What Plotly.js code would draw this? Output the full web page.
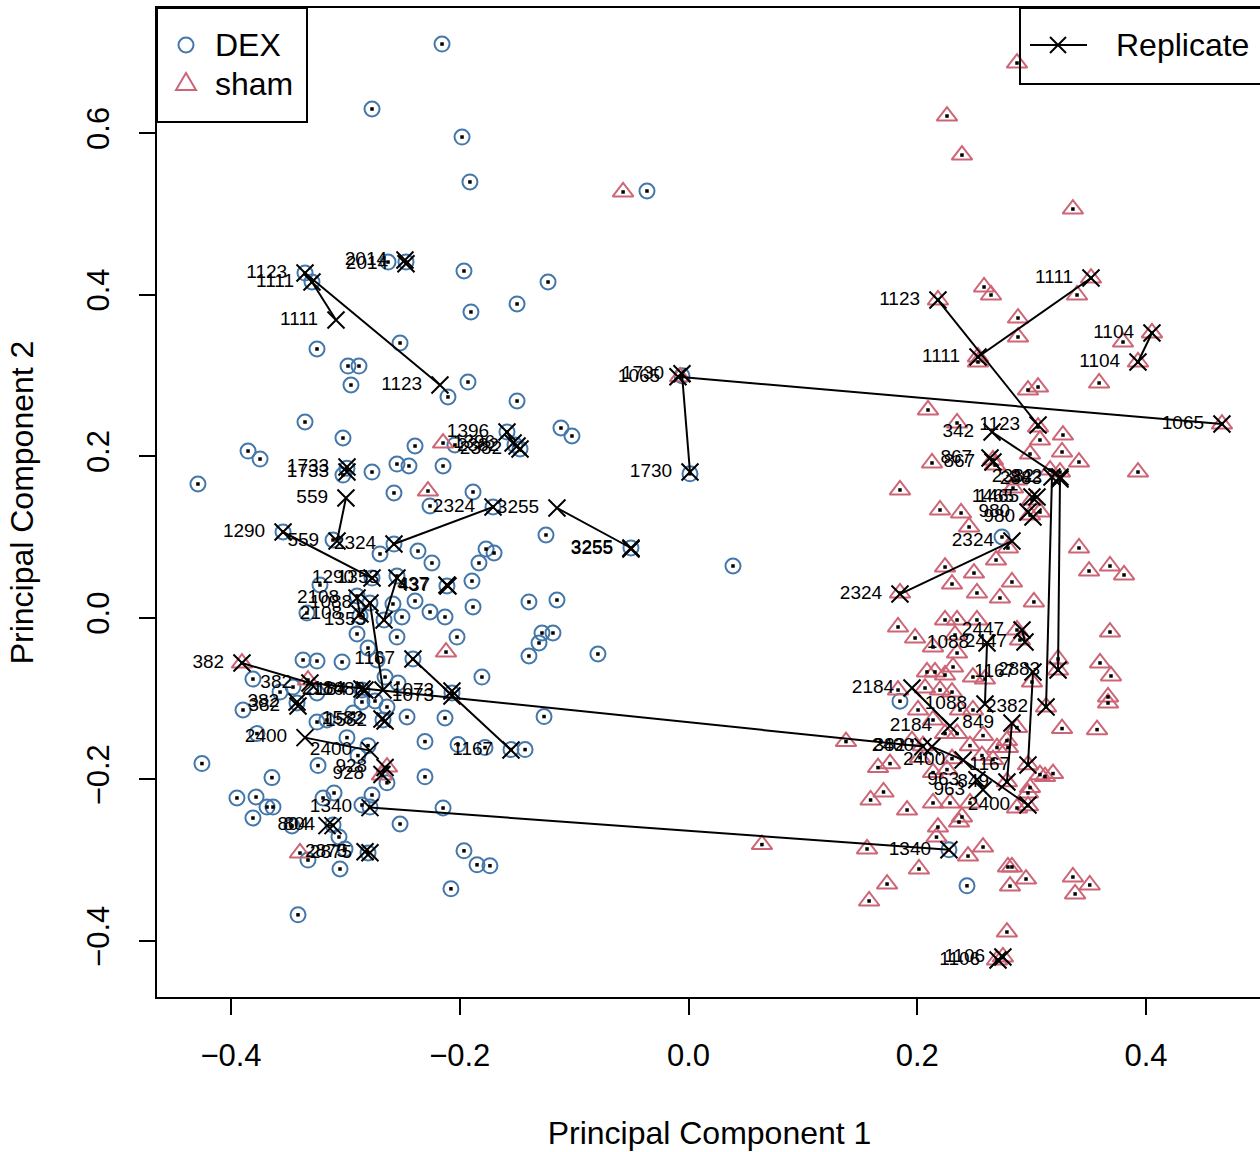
<!DOCTYPE html>
<html>
<head>
<meta charset="utf-8">
<script src="https://cdn.plot.ly/plotly-3.0.1.min.js"></script>
<style>
  html, body { margin: 0; padding: 0; overflow: hidden; background: #ffffff; }
  #pca { width: 1262px; height: 1152px; }
</style>
</head>
<body>
<div id="pca"></div>
<script>
// PCA scores, DEX-treated samples
const dexPC1 = [
  -0.2155, -0.2767, -0.1980, -0.1911, -0.0363, -0.2627, -0.1963, -0.1228, -0.3292, -0.3353,
  -0.1902, -0.1499, -0.2522, -0.3248, -0.2977, -0.2881, -0.2951, -0.1928, -0.2103, -0.1499,
  -0.3353, -0.3021, -0.2391, -0.3851, -0.3746, -0.4289, -0.2549, -0.2444, -0.2146, -0.2767,
  -0.3021, -0.2575, -0.1884, -0.2260, -0.2042, -0.1115, -0.1019, -0.1587, -0.1517, -0.1473,
  -0.1246, -0.1770, -0.1700, -0.1832, -0.2243, -0.2697, -0.2365, -0.3108, -0.3545, -0.3222,
  -0.2549, -0.1893, -0.2112, -0.2391, -0.2260, -0.2129, -0.1884, -0.2584, -0.2505, -0.3336,
  -0.2898, -0.2802, -0.2549, -0.2024, -0.1395, -0.1150, -0.1281, -0.1185, -0.1307, -0.1395,
  -0.0792, -0.3370, -0.3248, -0.3029, -0.2723, -0.2409, -0.1806, -0.2653, -0.2540, -0.3808,
  -0.3458, -0.3571, -0.3248, -0.2855, -0.2741, -0.2636, -0.2855, -0.3895, -0.3423, -0.3248,
  -0.3161, -0.2461, -0.2129, -0.2068, -0.2671, -0.2932, -0.1263, -0.1779, -0.1429, -0.1552,
  -0.2304, -0.3773, -0.2986, -0.2802, -0.2890, -0.2304, -0.2015, -0.4254, -0.3239, -0.3642,
  -0.2636, -0.3948, -0.3781, -0.3685, -0.3633, -0.3808, -0.3099, -0.3195, -0.2767, -0.2855,
  -0.2785, -0.2146, -0.2522, -0.3467, -0.3108, -0.3056, -0.3003, -0.3327, -0.3047, -0.2802,
  -0.1963, -0.1849, -0.1736, -0.2077, -0.3414, 0.0389, -0.0057, 0.0013, -0.0503, 0.2741,
  0.1849, 0.2435, 0.2277, -0.2470, -0.2986, -0.1709, -0.2575, -0.2767, -0.2898, -0.2872,
  -0.2662, -0.2785
];
const dexPC2 = [
  0.7101, 0.6297, 0.5950, 0.5394, 0.5282, 0.4403, 0.4292, 0.4156, 0.4156, 0.4267,
  0.3785, 0.3884, 0.3401, 0.3327, 0.3116, 0.3116, 0.2881, 0.2918, 0.2733, 0.2683,
  0.2423, 0.2225, 0.2126, 0.2064, 0.1965, 0.1656, 0.1903, 0.1879, 0.1879, 0.1804,
  0.1767, 0.1545, 0.1557, 0.1384, 0.2139, 0.2349, 0.2250, 0.2299, 0.2139, 0.2089,
  0.1025, 0.0851, 0.0802, 0.0678, 0.0678, 0.0790, 0.0826, 0.0963, 0.1062, 0.0406,
  0.0517, 0.0455, 0.0394, 0.0208, 0.0072, 0.0010, 0.0134, 0.0171, 0.0010, 0.0059,
  -0.0200, -0.0374, -0.0238, -0.0238, 0.0196, 0.0220, -0.0188, -0.0188, -0.0312, -0.0473,
  -0.0448, -0.0522, -0.0535, -0.0547, -0.0522, -0.0510, -0.0733, -0.0733, -0.0807, -0.0758,
  -0.0857, -0.0919, -0.0931, -0.0894, -0.1030, -0.1104, -0.1042, -0.1141, -0.1054, -0.1290,
  -0.1265, -0.1228, -0.1240, -0.0931, -0.1265, -0.1179, -0.1222, -0.1606, -0.1631, -0.1631,
  -0.1968, -0.1433, -0.1483, -0.1582, -0.1705, -0.1532, -0.1569, -0.1804, -0.1829, -0.1978,
  -0.2042, -0.2230, -0.2218, -0.2342, -0.2342, -0.2478, -0.2168, -0.2230, -0.2193, -0.2317,
  -0.2342, -0.2354, -0.2552, -0.2577, -0.2565, -0.2713, -0.2861, -0.2998, -0.3109, -0.2911,
  -0.2884, -0.3057, -0.3069, -0.3354, -0.3676, 0.0641, 0.2995, 0.1782, 0.0864, 0.1000,
  -0.1032, -0.3317, -0.2871, 0.4403, 0.1852, 0.1371, 0.0913, 0.0492, 0.0270, 0.0022,
  -0.0027, 0.0183
];

// PCA scores, sham samples
const shamPC1 = [
  -0.0572, -0.2146, -0.2278, -0.2120, -0.3904, -0.3327, -0.2636, -0.2680, -0.3397, 0.1377,
  0.0642, -0.0074, 0.2872, 0.2260, 0.2391, 0.3361, 0.3519, 0.2584, 0.2645, 0.3397,
  0.2181, 0.2881, 0.2881, 0.3799, 0.4052, 0.3930, 0.2531, 0.2531, 0.3590, 0.2968,
  0.3056, 0.4664, 0.2094, 0.2348, 0.3056, 0.3073, 0.3274, 0.3266, 0.2986, 0.3414,
  0.3930, 0.2662, 0.2129, 0.1849, 0.2872, 0.3161, 0.3248, 0.2837, 0.3003, 0.2986,
  0.3073, 0.2199, 0.2383, 0.2453, 0.2793, 0.2689, 0.2243, 0.2496, 0.3414, 0.3502,
  0.3685, 0.3808, 0.2828, 0.2304, 0.1849, 0.2522, 0.2723, 0.3020, 0.2243, 0.2348,
  0.2522, 0.1832, 0.1981, 0.2138, 0.2330, 0.2348, 0.2872, 0.3685, 0.2898, 0.2085,
  0.2155, 0.2243, 0.2313, 0.2487, 0.2592, 0.3231, 0.3598, 0.3694, 0.3003, 0.3231,
  0.3668, 0.2068, 0.2199, 0.2304, 0.1832, 0.2007, 0.2138, 0.2374, 0.2487, 0.3126,
  0.3668, 0.2872, 0.3266, 0.3572, 0.2243, 0.2348, 0.2575, 0.2461, 0.2697, 0.2784,
  0.1954, 0.2050, 0.2024, 0.2304, 0.2566, 0.2793, 0.1762, 0.2662, 0.3073, 0.3117,
  0.3187, 0.1657, 0.2138, 0.2260, 0.2986, 0.1705, 0.1592, 0.2138, 0.2286, 0.2461,
  0.2872, 0.2968, 0.1911, 0.2391, 0.2365, 0.2181, 0.2168, 0.1561, 0.2015, 0.1736,
  0.1579, 0.2444, 0.2575, 0.2793, 0.2828, 0.2951, 0.2811, 0.3361, 0.3508, 0.3380,
  0.2784, 0.2697, 0.2749, 0.2680, 0.2968, 0.2968, 0.2784
];
const shamPC2 = [
  0.5270, 0.2163, 0.1569, -0.0424, -0.0560, -0.0770, -0.1847, -0.1946, -0.2911, -0.1532,
  -0.2807, 0.2983, 0.6866, 0.6210, 0.5727, 0.5059, 0.4205, 0.4094, 0.3995, 0.3995,
  0.3933, 0.3710, 0.3475, 0.3413, 0.3525, 0.3166, 0.3228, 0.3166, 0.2906, 0.2819,
  0.2856, 0.2398, 0.2572, 0.2411, 0.2361, 0.2200, 0.2262, 0.2052, 0.2027, 0.1928,
  0.1804, 0.1953, 0.1916, 0.1582, 0.1705, 0.1829, 0.1804, 0.1606, 0.1457, 0.1272,
  0.1309, 0.1334, 0.1297, 0.1124, 0.0864, 0.0715, 0.0628, 0.0554, 0.0864, 0.0579,
  0.0641, 0.0530, 0.0443, 0.0418, 0.0307, 0.0307, 0.0245, 0.0196, -0.0027, -0.0027,
  -0.0027, -0.0114, -0.0250, -0.0361, -0.0213, -0.0436, -0.0151, -0.0176, -0.0275, -0.0670,
  -0.0670, -0.0708, -0.0609, -0.0733, -0.0758, -0.0510, -0.0559, -0.0720, -0.0795, -0.0646,
  -0.0980, -0.0869, -0.0894, -0.0919, -0.0894, -0.1141, -0.1265, -0.1141, -0.1141, -0.1104,
  -0.1055, -0.1359, -0.1371, -0.1384, -0.1433, -0.1433, -0.1458, -0.1582, -0.1606, -0.1520,
  -0.1520, -0.1582, -0.1730, -0.1743, -0.1705, -0.1606, -0.1805, -0.1755, -0.1941, -0.1965,
  -0.1928, -0.1854, -0.1916, -0.1879, -0.2101, -0.2156, -0.2255, -0.2292, -0.2292, -0.2292,
  -0.2354, -0.2168, -0.2379, -0.2465, -0.2528, -0.2590, -0.2714, -0.2861, -0.3109, -0.3295,
  -0.3505, -0.2949, -0.2837, -0.3084, -0.3084, -0.3233, -0.3320, -0.3208, -0.3307, -0.3418,
  -0.3889, -0.4235, -0.4198, 0.1890, -0.1820, -0.2327, -0.2030
];

// Replicate groups: sample id and the PC1 / PC2 scores of each replicate, in order
const repLabels = [
  '2014', '1123', '1111', '1733', '559', '1290', '2324', '3255', '1396', '2382',
  '437', '1353', '2108', '1088', '1167', '382', '382', '1073', '2184', '1582',
  '2400', '928', '1340', '804', '2875', '1730', '1065', '1123', '1111', '1104',
  '342', '2382', '2883', '867', '1465', '980', '2324', '2447', '1088', '1167',
  '849', '2184', '2400', '963', '1106'
];
const repPC1 = [
  [-0.2479, -0.2470], [-0.3353, -0.2173], [-0.3292, -0.3082], [-0.2986, -0.2986], [-0.2995, -0.3073],
  [-0.3545, -0.2767], [-0.2575, -0.1709], [-0.1150, -0.0503, -0.0503], [-0.1587, -0.1534], [-0.1499, -0.1473],
  [-0.2112, -0.2103], [-0.2549, -0.2662], [-0.2898, -0.2872], [-0.2785, -0.2671], [-0.2409, -0.1552],
  [-0.3904, -0.3310, 0.2050], [-0.3423, -0.3414], [-0.2068, -0.2068], [-0.2855, -0.2829], [-0.2680, -0.2653],
  [-0.3353, -0.2785], [-0.2653, -0.2680], [-0.2785, 0.2277], [-0.3161, -0.3108], [-0.2828, -0.2785],
  [-0.0057, 0.0013], [-0.0092, 0.4664], [0.2181, 0.3056], [0.2531, 0.3519], [0.4052, 0.3930],
  [0.2654, 0.3248], [0.3178, 0.3126], [0.3248, 0.3231], [0.2636, 0.2662], [0.3003, 0.3047],
  [0.2968, 0.3012], [0.1849, 0.2828], [0.2916, 0.2942], [0.2610, 0.2592], [0.3012, 0.2968],
  [0.2828, 0.2784], [0.1954, 0.2286], [0.2128, 0.2401, 0.2968], [0.2522, 0.2575], [0.2706, 0.2749]
];
const repPC2 = [
  [0.4428, 0.4381], [0.4267, 0.2881], [0.4156, 0.3686], [0.1866, 0.1804], [0.1483, 0.0950],
  [0.1062, 0.0492], [0.0913, 0.1371], [0.1359, 0.0864, 0.0851], [0.2299, 0.2163], [0.2126, 0.2089],
  [0.0406, 0.0394], [0.0492, -0.0027], [0.0245, 0.0047], [0.0183, -0.0894], [-0.0510, -0.1636],
  [-0.0560, -0.0807, -0.1594], [-0.1042, -0.1092], [-0.0906, -0.0968], [-0.0882, -0.0894], [-0.1253, -0.1278],
  [-0.1483, -0.1644], [-0.1853, -0.1940], [-0.2349, -0.2871], [-0.2572, -0.2572], [-0.2896, -0.2908],
  [0.3020, 0.1804], [0.2983, 0.2398], [0.3933, 0.2386], [0.3228, 0.4205], [0.3525, 0.3166],
  [0.2300, 0.1742], [0.1742, -0.1104], [0.1717, -0.0646], [0.1978, 0.1928], [0.1495, 0.1495],
  [0.1309, 0.1248], [0.0294, 0.0950], [-0.0151, -0.0300], [-0.0312, -0.1067], [-0.0671, -0.1822],
  [-0.1303, -0.2032], [-0.0869, -0.1339], [-0.1595, -0.1760, -0.2317], [-0.2005, -0.2129], [-0.4235, -0.4198]
];

const AX_TITLE_1 = 'Principal Component 1';
const AX_TITLE_2 = 'Principal Component 2';

const FONT = '"Liberation Sans", Arial, Helvetica, sans-serif';
const DEX_COL = '#4477AA';
const SHAM_COL = '#CC6677';

// flatten the replicate groups into one broken polyline
const repX = [], repY = [], repText = [];
repPC1.forEach((grp, i) => {
  grp.forEach((v, j) => {
    repX.push(v);
    repY.push(repPC2[i][j]);
    repText.push(repLabels[i]);
  });
  repX.push(null); repY.push(null); repText.push('');
});

const traces = [
  {
    type: 'scatter', mode: 'markers', name: 'DEX',
    x: dexPC1, y: dexPC2, hoverinfo: 'skip',
    marker: { symbol: 'circle-open', size: 15, color: DEX_COL, line: { width: 2, color: DEX_COL } }
  },
  {
    type: 'scatter', mode: 'markers', name: 'sham',
    x: shamPC1, y: shamPC2, hoverinfo: 'skip',
    marker: { symbol: 'triangle-up-open', size: 18, color: SHAM_COL, line: { width: 2, color: SHAM_COL } }
  },
  {
    // small black point marking each sample's centre
    type: 'scatter', mode: 'markers', name: 'centre',
    x: dexPC1.concat(shamPC1), y: dexPC2.concat(shamPC2), hoverinfo: 'skip',
    marker: { symbol: 'square', size: 3.5, color: '#000000', line: { width: 0 } }
  },
  {
    type: 'scatter', mode: 'lines+markers', name: 'Replicate',
    x: repX, y: repY, connectgaps: false, hoverinfo: 'skip',
    line: { color: '#000000', width: 2 },
    marker: { symbol: 'x-thin-open', size: 17, color: '#000000', line: { width: 2, color: '#000000' } }
  },
  {
    // sample ids, written to the left of each replicate
    type: 'scatter', mode: 'markers+text', name: 'ids',
    x: repX, y: repY, text: repText, textposition: 'middle left', hoverinfo: 'skip',
    textfont: { family: FONT, size: 19, color: '#000000' },
    marker: { size: 27, color: 'rgba(0,0,0,0)', line: { width: 0 } }
  }
];

// plot frame in pixels
const L = 157, T = 8, W = 1105, H = 989;
const fx = p => (p - L) / W;
const fy = p => (T + H - p) / H;

const shapes = [
  // DEX / sham key
  { type: 'rect', xref: 'paper', yref: 'paper', x0: fx(157), x1: fx(307), y0: fy(122), y1: fy(8),
    line: { color: '#000', width: 2 }, fillcolor: 'rgba(0,0,0,0)' },
  { type: 'circle', xref: 'paper', yref: 'paper', x0: fx(178.5), x1: fx(193.5), y0: fy(52.5), y1: fy(37.5),
    line: { color: DEX_COL, width: 2 } },
  { type: 'path', xref: 'paper', yref: 'paper',
    path: `M ${fx(176)} ${fy(90)} L ${fx(196)} ${fy(90)} L ${fx(186)} ${fy(73)} Z`,
    line: { color: SHAM_COL, width: 2 } },
  // Replicate key
  { type: 'rect', xref: 'paper', yref: 'paper', x0: fx(1020), x1: fx(1290), y0: fy(84), y1: fy(8),
    line: { color: '#000', width: 2 }, fillcolor: 'rgba(0,0,0,0)' },
  { type: 'line', xref: 'paper', yref: 'paper', x0: fx(1030), x1: fx(1087), y0: fy(45), y1: fy(45),
    line: { color: '#000', width: 2 } },
  { type: 'line', xref: 'paper', yref: 'paper', x0: fx(1050), x1: fx(1066), y0: fy(37), y1: fy(53),
    line: { color: '#000', width: 2 } },
  { type: 'line', xref: 'paper', yref: 'paper', x0: fx(1050), x1: fx(1066), y0: fy(53), y1: fy(37),
    line: { color: '#000', width: 2 } }
];

const annotations = [
  { text: 'DEX', xref: 'paper', yref: 'paper', x: fx(213), y: fy(45), xanchor: 'left', yanchor: 'middle',
    showarrow: false, font: { family: FONT, size: 32, color: '#000' } },
  { text: 'sham', xref: 'paper', yref: 'paper', x: fx(213), y: fy(84), xanchor: 'left', yanchor: 'middle',
    showarrow: false, font: { family: FONT, size: 32, color: '#000' } },
  { text: 'Replicate', xref: 'paper', yref: 'paper', x: fx(1114), y: fy(45), xanchor: 'left', yanchor: 'middle',
    showarrow: false, font: { family: FONT, size: 32, color: '#000' } }
];

const axisCommon = {
  showgrid: false, zeroline: false,
  showline: true, mirror: true, linecolor: '#000', linewidth: 2,
  ticks: 'outside', ticklen: 16, tickwidth: 2, tickcolor: '#000',
  tickfont: { family: FONT, size: 31, color: '#000' },
  tickformat: '.1f', dtick: 0.2, tick0: 0
};

const layout = {
  width: 1262, height: 1152,
  margin: { l: L, r: 1262 - L - W, t: T, b: 1152 - T - H, pad: 0 },
  paper_bgcolor: '#fff', plot_bgcolor: '#fff',
  showlegend: false,
  font: { family: FONT, size: 32, color: '#000' },
  xaxis: Object.assign({}, axisCommon, {
    range: [(L - 688.5) / 1143.75, (L + W - 688.5) / 1143.75],
    ticklabelstandoff: 14,
    title: { text: AX_TITLE_1, font: { family: FONT, size: 32, color: '#000' }, standoff: 49 }
  }),
  yaxis: Object.assign({}, axisCommon, {
    range: [(617.8 - T - H) / 808, (617.8 - T) / 808],
    tickangle: -90,
    ticklabelstandoff: 18,
    title: { text: AX_TITLE_2, font: { family: FONT, size: 32, color: '#000' }, standoff: 37 }
  }),
  shapes: shapes,
  annotations: annotations
};

Plotly.newPlot('pca', traces, layout, { displayModeBar: false, staticPlot: true });
</script>
</body>
</html>
